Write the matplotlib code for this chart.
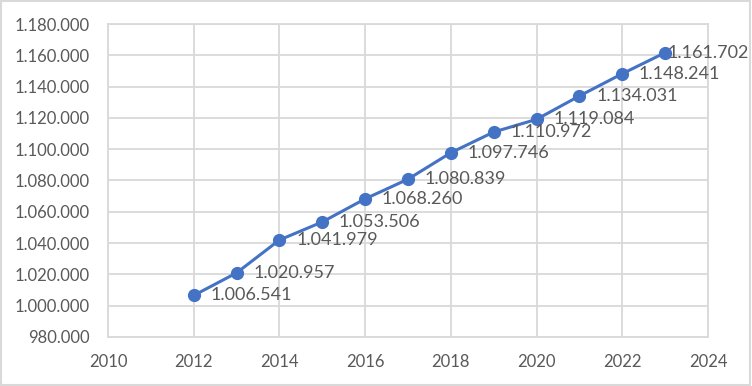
import matplotlib
matplotlib.use('Agg')
import matplotlib.pyplot as plt
from matplotlib.ticker import FuncFormatter, MultipleLocator
from matplotlib.patches import Rectangle

# Values
years = [2012, 2013, 2014, 2015, 2016, 2017, 2018, 2019, 2020, 2021, 2022, 2023]
values = [1006541, 1020957, 1041979, 1053506, 1068260, 1080839,
          1097746, 1110972, 1119084, 1134031, 1148241, 1161702]

x_ticks = [2010, 2012, 2014, 2016, 2018, 2020, 2022, 2024]
y_min, y_max, y_step = 980000, 1180000, 20000

line_color = '#4472C4'
text_color = '#595959'
grid_color = '#D9D9D9'


def dotted(v):
    return f"{v:,.0f}".replace(",", ".")


plt.rcParams['font.family'] = ['Lato', 'DejaVu Sans']

fig = plt.figure(figsize=(7.52, 3.86), dpi=100)
ax = fig.add_axes([0.1436, 0.127, 0.7979, 0.8108])

ax.plot(years, values, color=line_color, linewidth=2.2, marker='o',
        markersize=8.5, zorder=3)

for i, (x, y) in enumerate(zip(years, values)):
    dx = 12 if i < len(years) - 1 else 1.5
    ax.annotate(dotted(y), (x, y), xytext=(dx, 0), textcoords='offset points',
                ha='left', va='center', fontsize=13, color=text_color,
                zorder=4)

ax.set_xlim(x_ticks[0], x_ticks[-1])
ax.set_ylim(y_min, y_max)
ax.set_xticks(x_ticks)
ax.yaxis.set_major_locator(MultipleLocator(y_step))
ax.yaxis.set_major_formatter(FuncFormatter(lambda v, p: dotted(v)))

ax.grid(True, color=grid_color, linewidth=1.3, zorder=0)
ax.set_axisbelow(True)
for s in ax.spines.values():
    s.set_color(grid_color)
    s.set_linewidth(1.3)
ax.tick_params(length=0, labelsize=12, labelcolor=text_color)
ax.tick_params(axis='y', pad=13)
ax.tick_params(axis='x', pad=12)

fig.patches.append(Rectangle((0.001, 0.002), 0.997, 0.995, transform=fig.transFigure,
                             fill=False, edgecolor=grid_color, linewidth=1.5))

fig.savefig('out.png', dpi=100)
